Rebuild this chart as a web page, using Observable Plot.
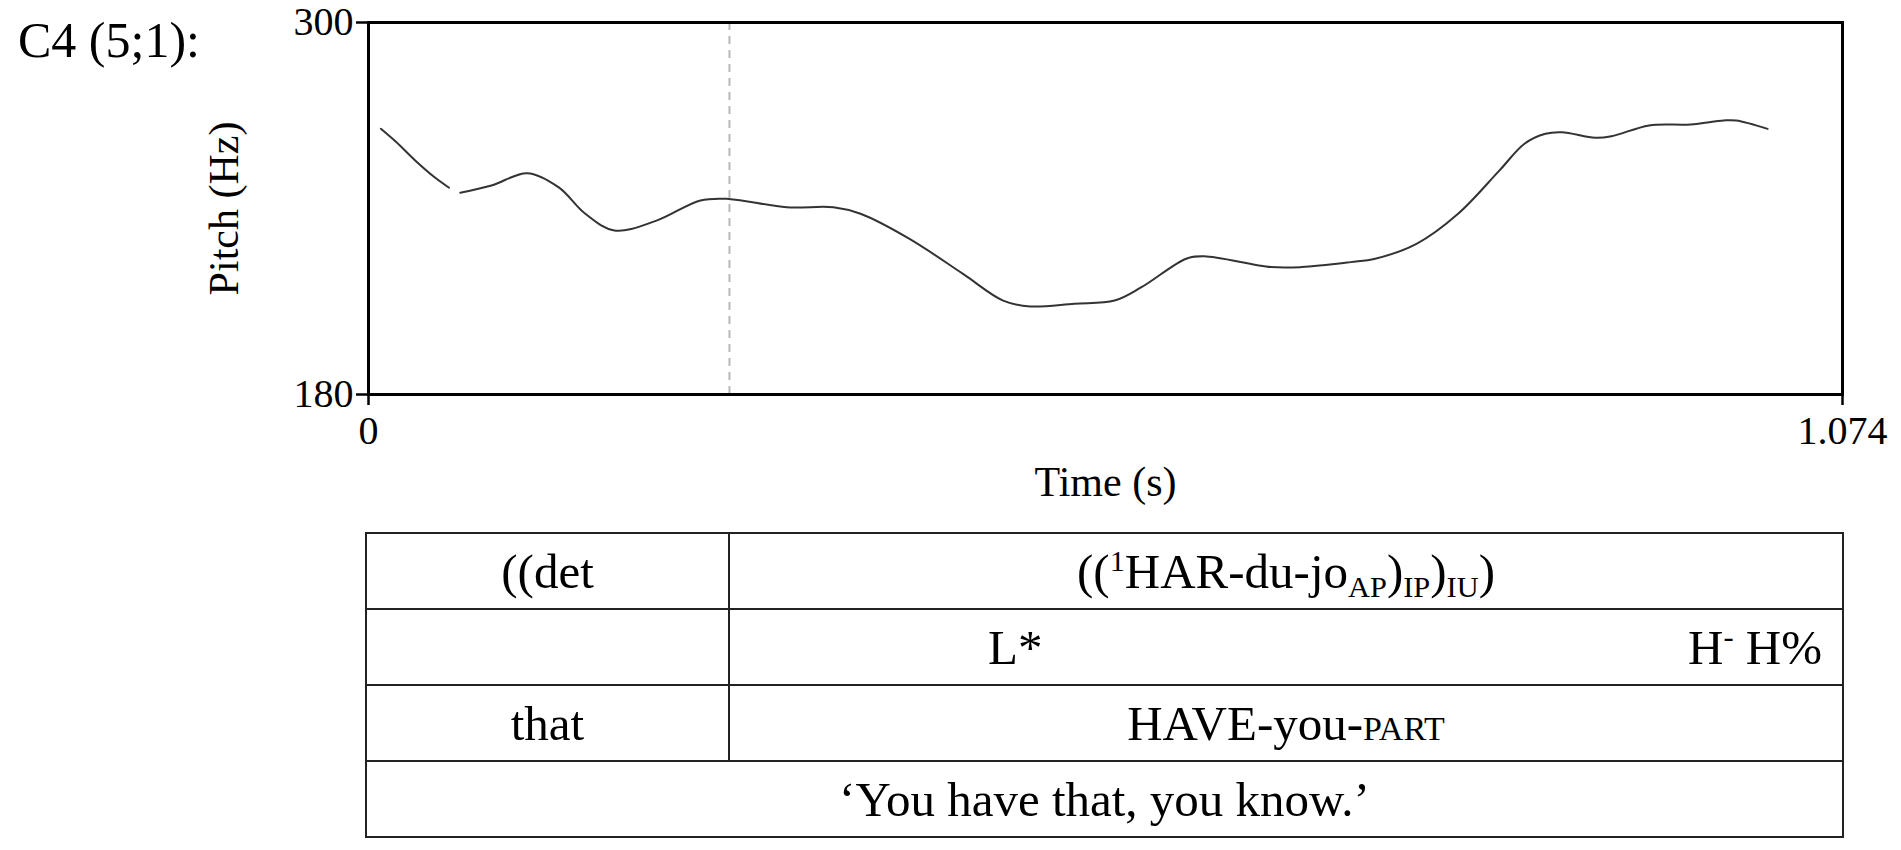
<!DOCTYPE html>
<html>
<head>
<meta charset="utf-8">
<script src="https://cdn.jsdelivr.net/npm/d3@7"></script>
<script src="https://cdn.jsdelivr.net/npm/@observablehq/plot@0.6"></script>
<style>
  html, body { margin: 0; padding: 0; background: #fff; }
  body { width: 1901px; height: 850px; position: relative; overflow: hidden;
         font-family: "Liberation Serif", "Times New Roman", serif; color: #000; }
  #speaker { position: absolute; left: 18px; top: 15px; font-size: 50px; line-height: 1; }
  #chart { position: absolute; left: 0; top: 0; }
  table.gloss { position: absolute; left: 365px; top: 532px; width: 1479px;
      border-collapse: collapse; table-layout: fixed; font-size: 49px; }
  table.gloss td { border: 2.5px solid #222; text-align: center; padding: 0; height: 74px;
      line-height: 1; position: relative; }
  table.gloss sub { font-size: 62%; vertical-align: -0.3em; line-height: 0; }
  table.gloss sup { font-size: 62%; vertical-align: 0.55em; line-height: 0; }
  .sc { font-variant: small-caps; }
  .lstar { position: absolute; left: 258px; top: 50%; transform: translateY(-50%); }
  .hh { position: absolute; right: 20px; top: 50%; transform: translateY(-50%); }
</style>
</head>
<body>
<div id="speaker"></div>
<div id="chart"></div>
<table class="gloss" id="gloss"></table>
<script>
// ---- data ----
const speaker = "C4 (5;1):";
const yLabel = "Pitch (Hz)";
const xLabel = "Time (s)";
const yTicks = [180, 300];
const xTicks = [0, 1.074];
const xTickLabels = ["0", "1.074"];
const markerTime = 0.263;

// pitch contour, first voiced stretch
const seg1Time  = [0.009, 0.020, 0.034, 0.047, 0.0587];
const seg1Pitch = [265.7, 261.5, 255.5, 250.5, 246.7];
// pitch contour, second voiced stretch
const seg2Time  = [0.0669, 0.0896, 0.1157, 0.1384, 0.158, 0.1791, 0.2099, 0.2419, 0.2623,
                   0.3046, 0.3388, 0.3585, 0.3942, 0.4332, 0.4624, 0.482, 0.5144, 0.5436,
                   0.5632, 0.5958, 0.6088, 0.6576, 0.6798, 0.7155, 0.7335, 0.7636, 0.7939,
                   0.8241, 0.8423, 0.8575, 0.8696, 0.8938, 0.9057, 0.9331, 0.9633, 0.9875,
                   0.9966, 1.0194];
const seg2Pitch = [245.1, 247.4, 251.4, 246.9, 238.3, 232.9, 236.1, 242.6, 243.1,
                   240.4, 240.4, 238.3, 230.2, 218.9, 210.3, 208.4, 209.3, 210.3,
                   214.6, 223.8, 224.6, 221.1, 221.1, 222.7, 223.8, 228.6, 238.3,
                   252.3, 260.9, 264.1, 264.6, 262.8, 263.3, 266.8, 267.1, 268.4,
                   268.4, 265.7];

// annotation table
const wordsRow   = ["((det", "((<sup>1</sup>HAR-du-jo<sub>AP</sub>)<sub>IP</sub>)<sub>IU</sub>)"];
const tonesLeft  = "L*";
const tonesRight = "H<sup>-</sup> H%";
const glossRow   = ["that", "HAVE-you-<span class=\"sc\">part</span>"];
const translation = "‘You have that, you know.’";

// ---- build ----
const rows = [
  ...seg1Time.map((t, i) => ({t, hz: seg1Pitch[i], seg: 1})),
  ...seg2Time.map((t, i) => ({t, hz: seg2Pitch[i], seg: 2}))
];

document.getElementById("speaker").textContent = speaker;

const font = "'Liberation Serif', 'Times New Roman', serif";
const chart = Plot.plot({
  width: 1901,
  height: 520,
  marginLeft: 368,
  marginRight: 59,
  marginTop: 22,
  marginBottom: 126,
  x: {domain: [0, 1.074]},
  y: {domain: [180, 300]},
  style: {fontFamily: font, fontSize: "40px", color: "#000", background: "transparent", overflow: "visible"},
  marks: [
    Plot.ruleX([markerTime], {stroke: "#b8b8b8", strokeWidth: 2, strokeDasharray: "8,6"}),
    Plot.line(rows, {x: "t", y: "hz", z: "seg", stroke: "#333", strokeWidth: 2, curve: "catmull-rom"}),
    Plot.frame({stroke: "#000", strokeWidth: 3}),
    Plot.axisY(yTicks, {tickSize: 12, tickPadding: 3, strokeWidth: 2.5, fontSize: 40, label: null, tickFormat: d => String(d)}),
    Plot.axisX(xTicks, {tickSize: 11, tickPadding: 10, strokeWidth: 2.5, fontSize: 40, label: null, tickFormat: (d, i) => xTickLabels[i]}),
    Plot.text([yLabel], {text: d => d, frameAnchor: "left", textAnchor: "middle", lineAnchor: "middle", dx: -144, rotate: -90, fontSize: 42}),
    Plot.text([xLabel], {text: d => d, frameAnchor: "bottom", textAnchor: "middle", lineAnchor: "middle", dy: 88, fontSize: 42})
  ]
});
document.getElementById("chart").appendChild(chart);

const table = document.getElementById("gloss");
table.innerHTML = `
  <colgroup><col style="width:363px"><col></colgroup>
  <tr><td>${wordsRow[0]}</td><td>${wordsRow[1]}</td></tr>
  <tr><td></td><td><span class="lstar">${tonesLeft}</span><span class="hh">${tonesRight}</span></td></tr>
  <tr><td>${glossRow[0]}</td><td>${glossRow[1]}</td></tr>
  <tr><td colspan="2">${translation}</td></tr>`;
</script>
</body>
</html>
